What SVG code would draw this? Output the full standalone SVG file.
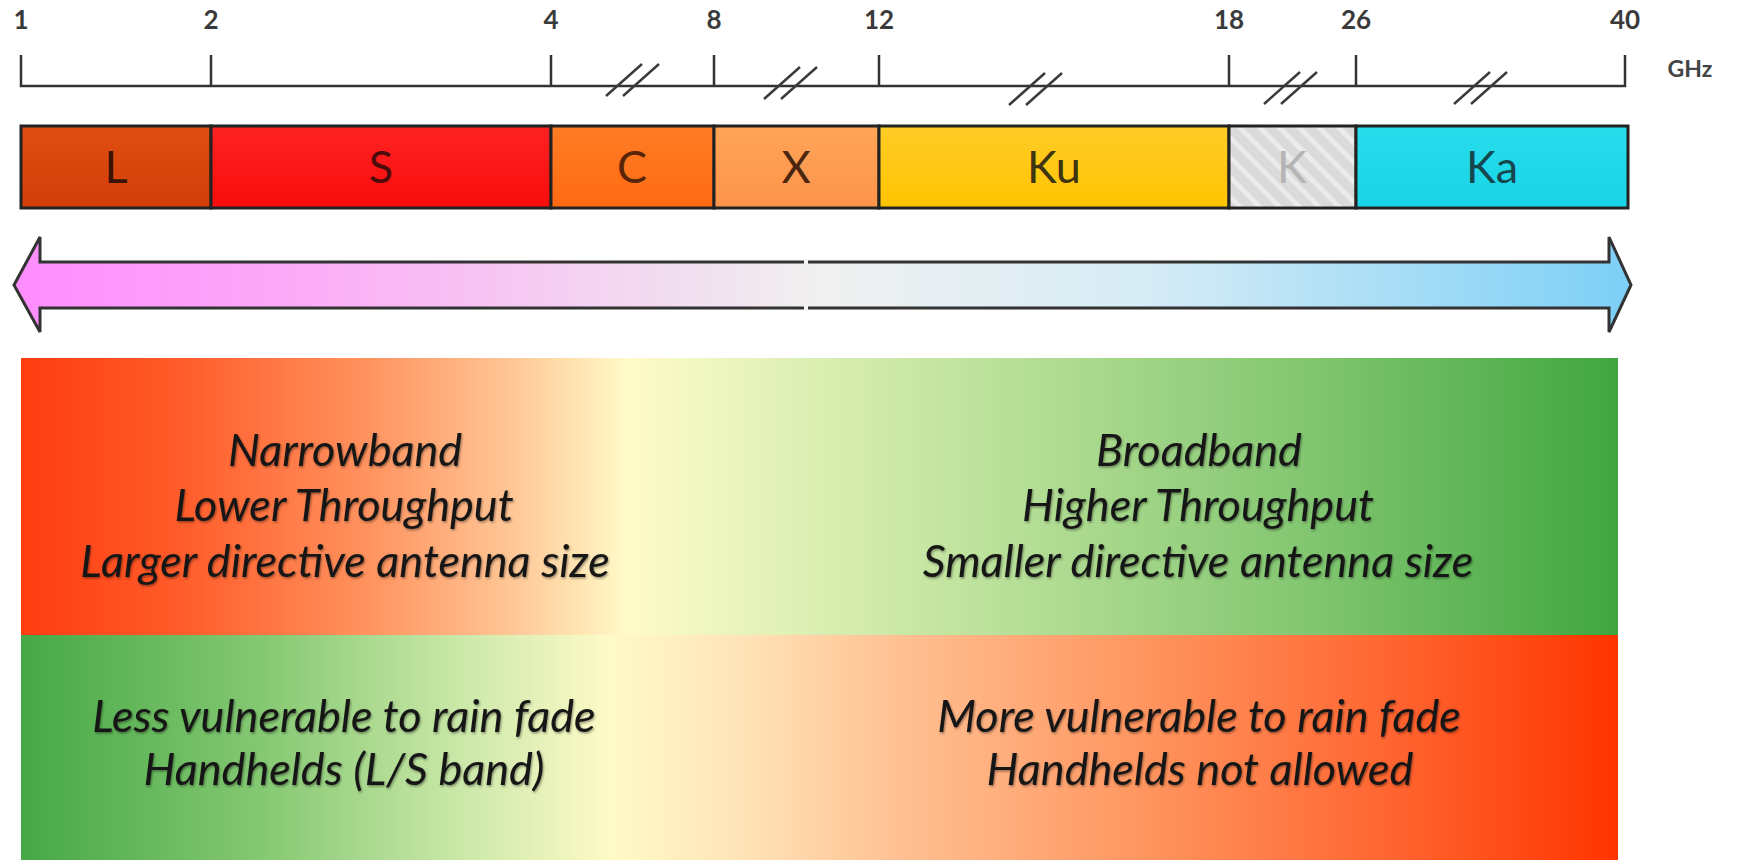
<svg xmlns="http://www.w3.org/2000/svg" width="1741" height="860" viewBox="0 0 1741 860">
<style>
.tick{stroke:#333;stroke-width:2.5;fill:none}
.axl{font-family:Lato,"Open Sans",sans-serif;font-size:26px;fill:#3a3a3a;text-anchor:middle;font-weight:bold}
.brk{stroke:#3a3a3a;stroke-width:2.5;fill:none}
.band{stroke:#222;stroke-width:3}
.bl{font-family:Lato,"Open Sans",sans-serif;font-size:45px;text-anchor:middle}
.pt{font-family:Lato,"Open Sans",sans-serif;font-style:italic;font-size:45px;text-anchor:middle;fill:#161616}
</style>
<defs>
<linearGradient id="gL" x1="0" y1="0" x2="0" y2="1"><stop offset="0" stop-color="#e04e12"/><stop offset="1" stop-color="#d23e08"/></linearGradient>
<linearGradient id="gS" x1="0" y1="0" x2="0" y2="1"><stop offset="0" stop-color="#ff2222"/><stop offset="1" stop-color="#f80c0c"/></linearGradient>
<linearGradient id="gC" x1="0" y1="0" x2="0" y2="1"><stop offset="0" stop-color="#ff7c24"/><stop offset="1" stop-color="#ff6a12"/></linearGradient>
<linearGradient id="gX" x1="0" y1="0" x2="0" y2="1"><stop offset="0" stop-color="#ffa458"/><stop offset="1" stop-color="#fc944a"/></linearGradient>
<linearGradient id="gKu" x1="0" y1="0" x2="0" y2="1"><stop offset="0" stop-color="#ffcc28"/><stop offset="1" stop-color="#ffc400"/></linearGradient>
<linearGradient id="gKa" x1="0" y1="0" x2="0" y2="1"><stop offset="0" stop-color="#28dcec"/><stop offset="1" stop-color="#18d4e6"/></linearGradient>
<pattern id="hatch" width="14" height="14" patternUnits="userSpaceOnUse" patternTransform="rotate(-45)">
<rect width="14" height="14" fill="#dadada"/><rect width="5" height="14" fill="#ebebeb"/>
</pattern>
<linearGradient id="gArrow" x1="14" y1="0" x2="1631" y2="0" gradientUnits="userSpaceOnUse">
<stop offset="0" stop-color="#ff8cff"/><stop offset="0.2" stop-color="#fbb0f6"/><stop offset="0.4" stop-color="#f2dcf0"/><stop offset="0.5" stop-color="#f0f0f0"/><stop offset="0.7" stop-color="#d6ecf6"/><stop offset="1" stop-color="#7ccff6"/>
</linearGradient>
<linearGradient id="gTop" x1="21" y1="0" x2="1618" y2="0" gradientUnits="userSpaceOnUse">
<stop offset="0" stop-color="#ff3c10"/><stop offset="0.1" stop-color="#ff5c2a"/><stop offset="0.22" stop-color="#ff9460"/><stop offset="0.31" stop-color="#ffc898"/><stop offset="0.38" stop-color="#fffbc8"/><stop offset="0.46" stop-color="#e6f3ba"/><stop offset="0.6" stop-color="#bde29c"/><stop offset="0.8" stop-color="#84c772"/><stop offset="1" stop-color="#40a640"/>
</linearGradient>
<linearGradient id="gBot" x1="21" y1="0" x2="1618" y2="0" gradientUnits="userSpaceOnUse">
<stop offset="0" stop-color="#46a846"/><stop offset="0.15" stop-color="#84c872"/><stop offset="0.28" stop-color="#cde9aa"/><stop offset="0.37" stop-color="#fffac8"/><stop offset="0.45" stop-color="#ffe4b8"/><stop offset="0.55" stop-color="#ffc092"/><stop offset="0.7" stop-color="#ff9660"/><stop offset="0.86" stop-color="#ff6430"/><stop offset="1" stop-color="#ff3400"/>
</linearGradient>
<filter id="sh" x="-5%" y="-20%" width="110%" height="140%"><feDropShadow dx="1" dy="1.5" stdDeviation="1.3" flood-color="#000" flood-opacity="0.4"/></filter>
<g id="brkmark"><line class="brk" x1="-26" y1="16" x2="10" y2="-16"/><line class="brk" x1="-9" y1="16" x2="27" y2="-16"/></g>
</defs>
<rect width="1741" height="860" fill="#ffffff"/>

<g id="axis">
<path class="tick" d="M21,55 V86 H1625 V55 M211,55 V86 M551,55 V86 M714,55 V86 M879,55 V86 M1229,55 V86 M1356,55 V86"/>
<text class="axl" x="21" y="29">1</text>
<text class="axl" x="211" y="29">2</text>
<text class="axl" x="551" y="29">4</text>
<text class="axl" x="714" y="29">8</text>
<text class="axl" x="879" y="29">12</text>
<text class="axl" x="1229" y="29">18</text>
<text class="axl" x="1356" y="29">26</text>
<text class="axl" x="1625" y="29">40</text>
<text x="1690" y="77" style="font-family:Lato,'Open Sans',sans-serif;font-size:23px;fill:#444;text-anchor:middle;font-weight:bold">GHz</text>
<use href="#brkmark" x="632" y="80"/>
<use href="#brkmark" x="790" y="83"/>
<use href="#brkmark" x="1035" y="89"/>
<use href="#brkmark" x="1290" y="88"/>
<use href="#brkmark" x="1480" y="88"/>
</g>

<g id="band-L"><rect class="band" x="21" y="126" width="190" height="82" fill="url(#gL)"/><text class="bl" x="116" y="183" fill="#3a1206">L</text></g>
<g id="band-S"><rect class="band" x="211" y="126" width="340" height="82" fill="url(#gS)"/><text class="bl" x="381" y="183" fill="#4a0c0c">S</text></g>
<g id="band-C"><rect class="band" x="551" y="126" width="163" height="82" fill="url(#gC)"/><text class="bl" x="632" y="183" fill="#5a2408">C</text></g>
<g id="band-X"><rect class="band" x="714" y="126" width="165" height="82" fill="url(#gX)"/><text class="bl" x="796" y="183" fill="#4a2610">X</text></g>
<g id="band-Ku"><rect class="band" x="879" y="126" width="350" height="82" fill="url(#gKu)"/><text class="bl" x="1054" y="183" fill="#3e3410">Ku</text></g>
<g id="band-K"><rect class="band" x="1229" y="126" width="127" height="82" fill="url(#hatch)"/><text class="bl" x="1292" y="183" fill="#b4b4b4">K</text></g>
<g id="band-Ka"><rect class="band" x="1356" y="126" width="272" height="82" fill="url(#gKa)"/><text class="bl" x="1492" y="183" fill="#17474e">Ka</text></g>

<g id="connectors">
<path d="M14,285 L40,237 L40,262 L1609,262 L1609,237 L1631,285 L1609,332 L1609,308 L40,308 L40,332 Z" fill="url(#gArrow)" stroke="#333" stroke-width="3" stroke-linejoin="miter"/>
<rect x="804" y="259" width="4" height="6" fill="#f4f4f4"/>
<rect x="804" y="305" width="4" height="6" fill="#f4f4f4"/>
</g>

<g id="panel-top">
<rect x="21" y="358" width="1597" height="277" fill="url(#gTop)"/>
<g filter="url(#sh)">
<text class="pt" x="345" y="466">Narrowband</text>
<text class="pt" x="344" y="521">Lower Throughput</text>
<text class="pt" x="345" y="577">Larger directive antenna size</text>
<text class="pt" x="1199" y="466" fill="#15220e">Broadband</text>
<text class="pt" x="1198" y="521" fill="#15220e">Higher Throughput</text>
<text class="pt" x="1198" y="577" fill="#15220e">Smaller directive antenna size</text>
</g>
</g>

<g id="panel-bottom">
<rect x="21" y="635" width="1597" height="225" fill="url(#gBot)"/>
<g filter="url(#sh)">
<text class="pt" x="344" y="732" fill="#122a0c">Less vulnerable to rain fade</text>
<text class="pt" x="344" y="785" fill="#122a0c">Handhelds (L/S band)</text>
<text class="pt" x="1199" y="732">More vulnerable to rain fade</text>
<text class="pt" x="1200" y="785">Handhelds not allowed</text>
</g>
</g>
</svg>
